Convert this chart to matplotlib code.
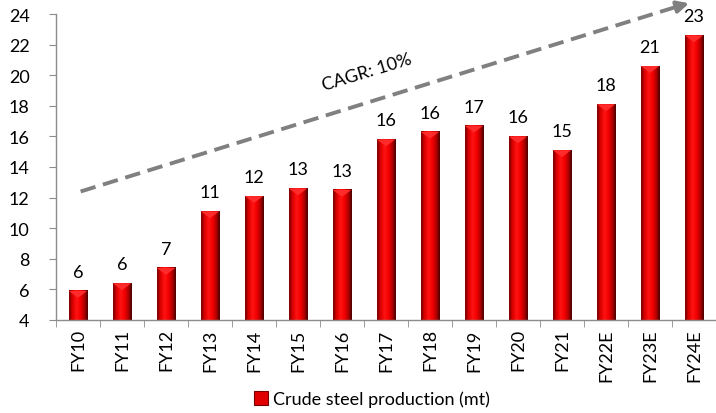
import numpy as np
import matplotlib
matplotlib.use('Agg')
import matplotlib.pyplot as plt
from matplotlib.colors import LinearSegmentedColormap
from matplotlib.patches import Patch

plt.rcParams['font.family'] = ['Lato', 'DejaVu Sans']

years = ['FY10', 'FY11', 'FY12', 'FY13', 'FY14', 'FY15', 'FY16', 'FY17',
         'FY18', 'FY19', 'FY20', 'FY21', 'FY22E', 'FY23E', 'FY24E']
production = [5.9, 6.4, 7.4, 11.1, 12.1, 12.6, 12.5, 15.8,
              16.3, 16.7, 16.0, 15.1, 18.1, 20.6, 22.6]
value_labels = ['6', '6', '7', '11', '12', '13', '13', '16',
                '16', '17', '16', '15', '18', '21', '23']
cagr_text = 'CAGR: 10%'

ymin, ymax = 4, 24
bar_w = 0.42
fs = 13

fig = plt.figure(figsize=(7.16, 4.14), dpi=100)
ax = fig.add_axes([56 / 716, 93 / 414, 660 / 716, 306 / 414])

# cylinder-like red shading across each bar
cmap = LinearSegmentedColormap.from_list(
    'cyl', ['#7a0000', '#e00000', '#ff1414', '#f50000', '#b80000', '#4a0000'])
grad = np.linspace(0, 1, 64).reshape(1, -1)

x = np.arange(len(years))
for xi, v, lab in zip(x, production, value_labels):
    ax.imshow(grad, cmap=cmap, aspect='auto', interpolation='bicubic',
              extent=[xi - bar_w / 2, xi + bar_w / 2, ymin, v], zorder=2)
    # bevel on top of the bar
    ax.fill([xi - bar_w / 2, xi + bar_w / 2, xi], [v, v, v - 0.45],
            color='#ff2a2a', zorder=3, lw=0)
    ax.annotate(lab, (xi, v), xytext=(0, 8), textcoords='offset points',
                ha='center', va='bottom', fontsize=fs, color='black')

ax.set_xlim(-0.5, len(years) - 0.5)
ax.set_ylim(ymin, ymax)
ax.set_yticks(np.arange(4, 25, 2))
ax.set_xticks(x)
ax.set_xticklabels(years, rotation=90)
ax.set_xticks(np.arange(-0.5, len(years), 1), minor=True)
ax.tick_params(axis='x', which='major', length=0, labelsize=fs, pad=6)
ax.tick_params(axis='x', which='minor', length=5, color='#8c8c8c')
ax.tick_params(axis='y', length=5, color='#8c8c8c', labelsize=fs, pad=14)

for s in ['top', 'right']:
    ax.spines[s].set_visible(False)
for s in ['left', 'bottom']:
    ax.spines[s].set_color('#8c8c8c')
    ax.spines[s].set_linewidth(1)

# CAGR trend arrow
x0, y0 = 0.06, 12.4
x1, y1 = 13.95, 24.75
ax.plot([x0, x1 - 0.35], [y0, y1 - 0.28], ls=(0, (4, 2)), lw=2.8,
        color='#808080', clip_on=False, zorder=4)
ax.annotate('', xy=(x1, y1), xytext=(x1 - 0.4, y1 - 0.32),
            arrowprops=dict(arrowstyle='-|>,head_length=0.7,head_width=0.35',
                            color='#808080', lw=2.8),
            annotation_clip=False, zorder=4)
ax.text(6.57, 20.2, cagr_text, rotation=17, ha='center', va='center',
        fontsize=fs, color='black', rotation_mode='anchor')

handle = Patch(facecolor='#e00000', edgecolor='#7a0000', lw=0.8)
fig.legend([handle], ['Crude steel production (mt)'], loc='center',
           bbox_to_anchor=(372 / 716, 1 - 400 / 414), frameon=False,
           fontsize=fs, handlelength=0.8, handleheight=0.8, handletextpad=0.3)

fig.savefig('out.png', dpi=100)
